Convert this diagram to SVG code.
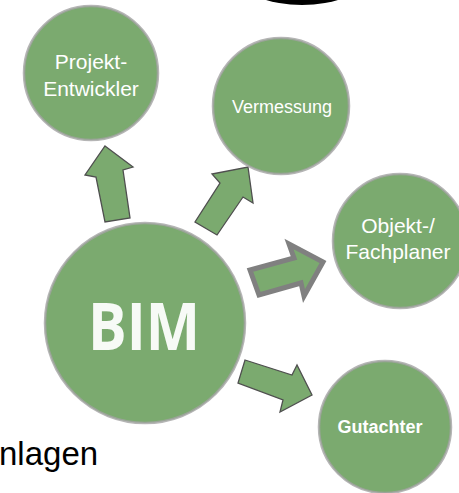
<svg xmlns="http://www.w3.org/2000/svg" width="459" height="493" viewBox="0 0 459 493">
<style>
.node{fill:#7BAA6F;stroke:#a3a3a3;stroke-width:2.5;stroke-opacity:0.8}
.lbl{font-family:"Liberation Sans",Arial,sans-serif;fill:#ffffff;text-anchor:middle}
.arr{fill:#7BAA6F;stroke:#4f4f4f;stroke-width:1.3;stroke-linejoin:miter}
.arrg{fill:#7BAA6F;stroke:#808080;stroke-width:5;stroke-linejoin:miter}
</style>
<rect width="459" height="493" fill="#ffffff"/>
<ellipse cx="302" cy="-20" rx="60" ry="25" fill="#000000"/>
<g id="connectors">
<polygon class="arr" points="105,146 133,167 123,170 130,218 105,222 96,177 85,175"/>
<polygon class="arr" points="248,167 253,203 243,197 217,235 195,222 220,183 212,174"/>
<polygon class="arrg" points="323,262 289,244 294,258 250,270 259,295 301,283 304,296"/>
<polygon class="arr" points="245,360 292,375 297,365 312,395 280,412 283,400 238,383"/>
</g>
<g id="projekt">
<circle class="node" cx="91" cy="73" r="67"/>
<text class="lbl" x="91" y="69" font-size="21">Projekt-</text>
<text class="lbl" x="91" y="96" font-size="21">Entwickler</text>
</g>
<g id="vermessung">
<circle class="node" cx="281" cy="106" r="68"/>
<text class="lbl" x="282" y="113" font-size="18">Vermessung</text>
</g>
<g id="objekt">
<circle class="node" cx="400" cy="241" r="67"/>
<text class="lbl" x="398" y="233" font-size="21">Objekt-/</text>
<text class="lbl" x="398" y="259" font-size="21">Fachplaner</text>
</g>
<g id="gutachter">
<circle class="node" cx="385" cy="427" r="66"/>
<text class="lbl" x="380" y="433" font-size="18" font-weight="bold">Gutachter</text>
</g>
<g id="bim">
<circle class="node" cx="145" cy="323" r="100"/>
<text x="144" y="350" font-family="'Open Sans','DejaVu Sans',sans-serif" font-weight="700" font-size="67" fill="#f7faf6" text-anchor="middle" textLength="112" lengthAdjust="spacingAndGlyphs">BIM</text>
</g>
<text x="-1" y="465" font-family="'Liberation Sans',Arial,sans-serif" font-size="33" fill="#000000">nlagen</text>
</svg>
